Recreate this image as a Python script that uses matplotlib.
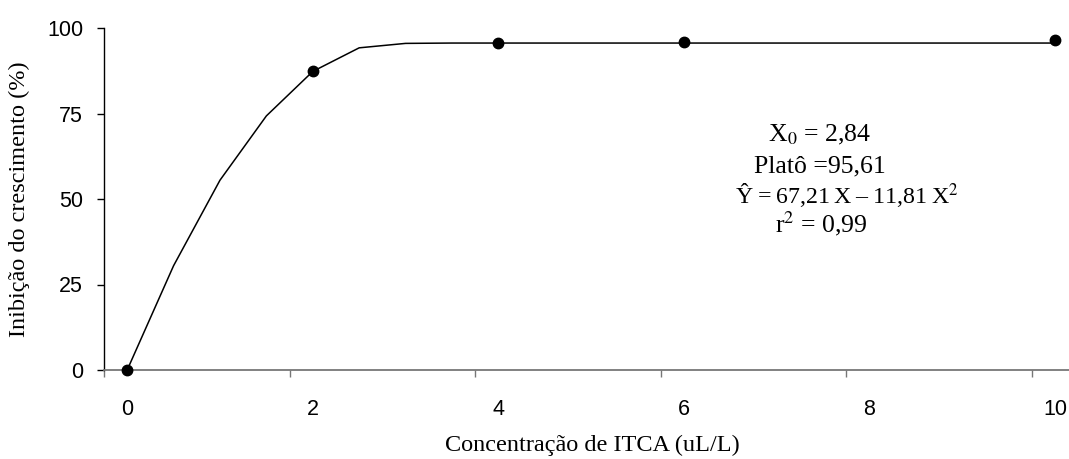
import matplotlib
matplotlib.use("Agg")
from matplotlib import pyplot as plt

# observed inhibition (%) per ITCA concentration (uL/L)
conc_obs = [0, 2, 4, 6, 10]
inib_obs = [0.0, 87.4, 95.5, 96.0, 96.5]

# fitted curve (quadratic-plateau)
conc_fit = [0, 0.5, 1, 1.5, 2, 2.5, 3, 3.5, 4, 4.5, 5,
            5.5, 6, 6.5, 7, 7.5, 8, 8.5, 9, 9.5, 10]
inib_fit = [0.0, 30.5, 55.5, 74.3, 87.3, 94.2, 95.5, 95.6, 95.6, 95.6, 95.6,
            95.6, 95.6, 95.6, 95.6, 95.6, 95.6, 95.6, 95.6, 95.6, 95.6]

x_labels = [0, 2, 4, 6, 8, 10]
y_ticks = [0, 25, 50, 75, 100]

hs = "\u2009"  # thin space, the original equation is set tight
eq_lines = [r"X$_0$ = 2,84", "Platô =95,61",
            "Ŷ" + hs + "=" + hs + "67,21" + hs + "X" + hs + "–" + hs + "11,81" + hs + r"X$^2$",
            r"r$^2$ = 0,99"]
eq_sizes = [18.5, 18.5, 17.2, 18.5]

plt.rcParams['mathtext.fontset'] = 'stix'
serif = ['Liberation Serif', 'DejaVu Serif']
sans = ['Liberation Sans', 'DejaVu Sans']

fig = plt.figure(figsize=(10.69, 4.59), dpi=100)
ax = fig.add_axes([104 / 1069, 1 - 370 / 459, 1 - 104 / 1069, (370 - 28) / 459])

ax.plot(conc_fit, inib_fit, color='black', lw=1.1, clip_on=False, zorder=2)
ax.plot(conc_obs, inib_obs, 'o', color='black', ms=7.5, clip_on=False, zorder=3)

ax.set_xlim(-0.25, 10.15)
ax.set_ylim(0, 100)

# tick marks sit between the labelled categories, like the Excel original
ax.set_xticks([-0.25, 1.75, 3.75, 5.75, 7.75, 9.75])
ax.set_xticklabels([])
ax.set_xticks(x_labels, minor=True)
ax.set_xticklabels([str(v) for v in x_labels], minor=True, family=sans, fontsize=15.5)
ax.tick_params(axis='x', which='major', direction='out', length=5, width=1, color='#777777')
ax.tick_params(axis='x', which='minor', length=0, pad=21)

ax.set_yticks(y_ticks)
ax.set_yticklabels([str(v) for v in y_ticks], family=sans, fontsize=15.5)
ax.tick_params(axis='y', direction='out', length=5, width=1, pad=10)

for s in ['top', 'right']:
    ax.spines[s].set_visible(False)
ax.spines['bottom'].set_color('#777777')
ax.spines['bottom'].set_linewidth(1.3)
ax.spines['left'].set_linewidth(1.0)

fig.text(592 / 1069, 1 - 445 / 459, "Concentração de ITCA (uL/L)", family=serif,
         fontsize=17.5, ha='center', va='center')
ax.set_ylabel("Inibição do crescimento (%)", family=serif, fontsize=17.5, labelpad=12)

text_pos = [(820, 135), (820, 166), (847, 196), (821, 224)]
for line, size, (px, py) in zip(eq_lines, eq_sizes, text_pos):
    fig.text(px / 1069, 1 - py / 459, line, family=serif, fontsize=size,
             ha='center', va='center')

fig.savefig("out.png", dpi=100)
